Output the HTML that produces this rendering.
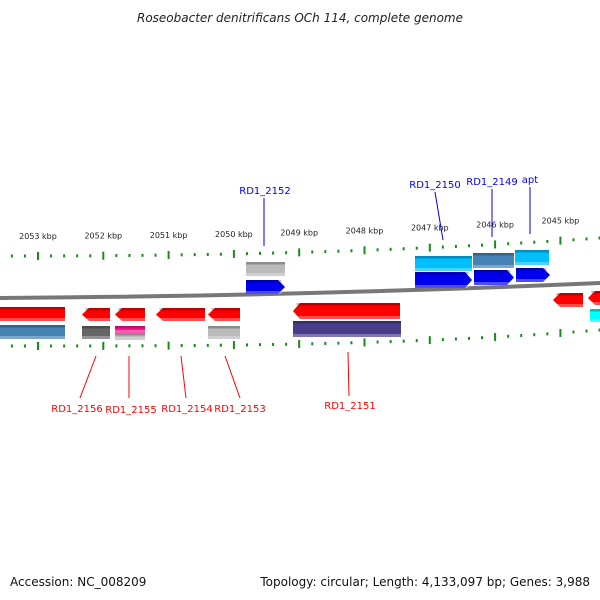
<!DOCTYPE html>
<html><head><meta charset="utf-8"><style>
html,body{margin:0;padding:0;background:#fff;}
svg{display:block;font-family:"DejaVu Sans","Liberation Sans",sans-serif;}
</style></head><body>
<svg id="c" width="600" height="600" viewBox="0 0 600 600">
<text x="300" y="22" text-anchor="middle" font-size="12" font-style="italic" fill="#222">Roseobacter denitrificans OCh 114, complete genome</text>
<g id="ticks"></g>
<path d="M0,298 Q300,296 600,283" stroke="#777" stroke-width="4" fill="none"/>
<g id="genes"></g>
<g id="labels"></g>
<text x="10" y="586" font-size="12" fill="#111">Accession: NC_008209</text>
<text x="590" y="586" text-anchor="end" font-size="12" fill="#111">Topology: circular; Length: 4,133,097 bp; Genes: 3,988</text>
</svg>
<script>
const tickKbp = [2053,2052,2051,2050,2049,2048,2047,2046,2045];
const tickLabels = ["2053 kbp","2052 kbp","2051 kbp","2050 kbp","2049 kbp","2048 kbp","2047 kbp","2046 kbp","2045 kbp"];
const geneNames = ["RD1_2152","RD1_2150","RD1_2149","apt","RD1_2156","RD1_2155","RD1_2154","RD1_2153","RD1_2151"];
const NS="http://www.w3.org/2000/svg";
function xOf(k){return 38+(2053-k)*65.3;}
function topY(x){return 256-18*Math.pow(Math.max(x,0)/600,2.3);}
function botY(x){return 346-16*Math.pow(Math.max(x,0)/600,3);}
function mk(t,a,p){const e=document.createElementNS(NS,t);for(const k in a)e.setAttribute(k,a[k]);p.appendChild(e);return e;}
const tg=document.getElementById('ticks');
for(let k=2053.6;k>=2044.2;k-=0.2){
  const x=xOf(k); if(x<0||x>600) continue;
  const maj=Math.abs(k-Math.round(k))<0.01;
  const h=maj?8:3;
  for(const y of [topY(x),botY(x)]){
    const r=mk('rect',{x:x-1,y:y-h/2,width:2,height:h,fill:'#1a8a1a'},tg);
    
    
  }
}
tickKbp.forEach((k,i)=>{
  const x=xOf(k);
  const t=mk('text',{x:x,y:topY(x)-17,'text-anchor':'middle','font-size':'8',fill:'#222'},tg);
  t.textContent=tickLabels[i];
  
  
});
const gg=document.getElementById('genes');
const shapes=[
 [246,285,262,14,'#bbbbbb',0],[246,285,280,14,'#0000ee',1],
 [415,472,256,15,'#00bfff',0],[473,514,253,15,'#4682b4',0],[515,549,250,15,'#00bfff',0],
 [415,472,272,16,'#0000ee',1],[474,514,270,15,'#0000ee',1],[516,550,268,14,'#0000ee',1],
 [0,65,307,14,'#ff0000',0],[82,110,308,13,'#ff0000',-1],[115,145,308,13,'#ff0000',-1],
 [156,205,308,13,'#ff0000',-1],[208,240,308,13,'#ff0000',-1],[293,400,303,16,'#ff0000',-1],
 [553,583,293,14,'#ff0000',-1],[588,600,291,14,'#ff0000',-1],
 [0,65,325,14,'#4682b4',0],[82,110,326,13,'#666666',0],[115,145,326,7,'#ff1493',0],[115,145,333,7,'#bbbbbb',0],
 [208,240,326,13,'#bbbbbb',0],[293,401,321,16,'#483d8b',0],[590,600,309,13,'#00ffff',0]
];
shapes.forEach(s=>{
  const [x1,x2,y,h,c,d]=s; const a=7; let pts;
  if(d===1) pts=`${x1},${y} ${x2-a},${y} ${x2},${y+h/2} ${x2-a},${y+h} ${x1},${y+h}`;
  else if(d===-1) pts=`${x1+a},${y} ${x2},${y} ${x2},${y+h} ${x1+a},${y+h} ${x1},${y+h/2}`;
  else pts=`${x1},${y} ${x2},${y} ${x2},${y+h} ${x1},${y+h}`;
  const p=mk('polygon',{points:pts,fill:c},gg);
  
  
  mk('rect',{x:x1+(d===-1?a/2:0),y:y,width:x2-x1-(d?a/2:0),height:2.5,fill:'#000','fill-opacity':0.25},gg);
  mk('rect',{x:x1+(d===-1?a/2:0),y:y+h-3,width:x2-x1-(d?a/2:0),height:3,fill:'#fff','fill-opacity':0.3},gg);
});
const lg=document.getElementById('labels');
const lbl=[
 [0,265,194,264,198,264,246,'#0000ee'],[1,435,188,435,192,443,240,'#0000ee'],
 [2,492,185,492,189,492,237,'#0000ee'],[3,530,183,530,187,530,234,'#0000ee'],
 [4,77,412,80,398,96,356,'#ff0000'],[5,131,413,129,398,129,356,'#ff0000'],
 [6,187,412,186,398,181,356,'#ff0000'],[7,240,412,240,398,225,356,'#ff0000'],
 [8,350,409,349,396,348,352,'#ff0000']
];
lbl.forEach(l=>{
  const ln=mk('line',{x1:l[3],y1:l[4],x2:l[5],y2:l[6],stroke:l[7],'stroke-width':1},lg);
  
  
  const t=mk('text',{x:l[1],y:l[2],'text-anchor':'middle','font-size':'10',fill:l[7]},lg);
  t.textContent=geneNames[l[0]];
  
  
});
</script>
</body></html>
